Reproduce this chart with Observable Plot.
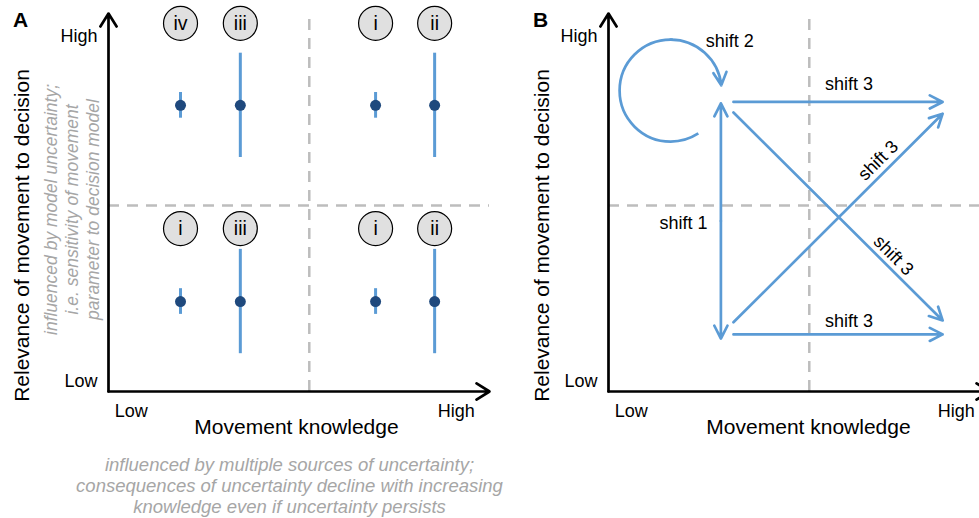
<!DOCTYPE html>
<html><head><meta charset="utf-8">
<script src="https://cdn.jsdelivr.net/npm/d3@7"></script>
<script src="https://cdn.jsdelivr.net/npm/@observablehq/plot@0.6"></script>
<style>
body{margin:0;background:#fff;}
#wrap{position:relative;width:979px;height:518px;overflow:hidden;background:#fff;}
#wrap > svg, #wrap > figure{position:absolute;top:0;margin:0;}
</style></head><body><div id="wrap"></div>
<script>
// ---------- data (conceptual units: 0 = origin of the axes, 1 = arrow tip) ----------
const axisTickLabels = ["Low", "High"];
const xTickValues = [0.06, 0.913];
const yTickValues = [0.026, 0.94];
const xTitle = "Movement knowledge";
const yTitle = "Relevance of movement to decision";
const quadrantKnowledge = 0.527;
const quadrantRelevance = 0.492;
const axesArrows = [{k1: 0, r1: 0, k2: 0, r2: 1}, {k1: 0, r1: 0, k2: 1, r2: 0}];

// Panel A
const aKnowledge = [0.189, 0.346, 0.701, 0.856];
const aRelevance = [0.757, 0.238];
const aUncertaintyHalf = [0.034, 0.138, 0.034, 0.138];
const aBadgeRelevance = [0.974, 0.431];
const aBadgesTop = ["iv", "iii", "i", "ii"];
const aBadgesBottom = ["i", "iii", "i", "ii"];
const aSideNote = ["influenced by model uncertainty;", "i.e. sensitivity of movement", "parameter to decision model"];
const aCaption = ["influenced by multiple sources of uncertainty;", "consequences of uncertainty decline with increasing", "knowledge even if uncertainty persists"];

// Panel B
const bShift1 = {k: 0.295, rTop: 0.762, rBottom: 0.140};
const bShift3 = [
  {k1: 0.328, r1: 0.766, k2: 0.877, r2: 0.766},
  {k1: 0.328, r1: 0.151, k2: 0.877, r2: 0.151},
  {k1: 0.328, r1: 0.738, k2: 0.877, r2: 0.188},
  {k1: 0.328, r1: 0.183, k2: 0.877, r2: 0.735}
];
const bLoop = {k: 0.163, r: 0.796, startDeg: 57, endDeg: 272};
const bLoopArrow = {k1: 0.163, r1: 0.931, k2: 0.296, r2: 0.810};
const bLabels = [
  {text: "shift 2", k: 0.318, r: 0.926},
  {text: "shift 1", k: 0.197, r: 0.444},
  {text: "shift 3", k: 0.631, r: 0.812},
  {text: "shift 3", k: 0.631, r: 0.187}
];
const bDiagLabels = [
  {text: "shift 3", k: 0.708, r: 0.611, angle: -45},
  {text: "shift 3", k: 0.748, r: 0.360, angle: 45}
];

// ---------- styles ----------
const BLUE = "#5b9bd5", NAVY = "#1f497d", GRID = "#bdbdbd", NOTE = "#a6a6a6";
const FONT = "'Liberation Sans', Arial, sans-serif";
const CENTERED = {textAnchor: "middle", lineAnchor: "middle"};

// tables built from arrays
const aPoints = [];
aRelevance.forEach((r, ri) => aKnowledge.forEach((k, ci) => aPoints.push({k, r, lo: r - aUncertaintyHalf[ci], hi: r + aUncertaintyHalf[ci]})));
const aBadges = [];
[aBadgesTop, aBadgesBottom].forEach((row, ri) => row.forEach((label, ci) => aBadges.push({k: aKnowledge[ci], r: aBadgeRelevance[ri], label})));
const shift1Mid = (bShift1.rTop + bShift1.rBottom) / 2;
const bShift1Arrows = [{k: bShift1.k, from: shift1Mid, to: bShift1.rTop}, {k: bShift1.k, from: shift1Mid, to: bShift1.rBottom}];

function commonMarks(panelLetter, letterDx, yTitleDx, xTitleDx) {
  return [
    Plot.ruleX([quadrantKnowledge], {y1: 0, y2: 1, stroke: GRID, strokeWidth: 2.5, strokeDasharray: "11,8"}),
    Plot.ruleY([quadrantRelevance], {x1: 0, x2: 1, stroke: GRID, strokeWidth: 2.5, strokeDasharray: "11,8"}),
    Plot.arrow(axesArrows, {x1: "k1", y1: "r1", x2: "k2", y2: "r2", stroke: "#000", strokeWidth: 2.7, headLength: 8.5, headAngle: 64}),
    Plot.axisX({ticks: xTickValues, tickFormat: d => axisTickLabels[xTickValues.indexOf(d)], tickSize: 0, tickPadding: 13, fontSize: 18, label: null}),
    Plot.axisY({ticks: yTickValues, tickFormat: d => axisTickLabels[yTickValues.indexOf(d)], tickSize: 0, tickPadding: 11, fontSize: 18, label: null}),
    Plot.text([xTitle], {frameAnchor: "bottom", ...CENTERED, dx: xTitleDx, dy: 36, fontSize: 21, fill: "#000"}),
    Plot.text([yTitle], {frameAnchor: "left", ...CENTERED, rotate: -90, dx: yTitleDx, dy: 33, fontSize: 21, fill: "#000"}),
    Plot.text([panelLetter], {frameAnchor: "top-left", ...CENTERED, dx: letterDx, dy: 7, fontSize: 21, fontWeight: "bold", fill: "#000"})
  ];
}

function panel(marks) {
  return Plot.plot({
    width: 500, height: 518,
    marginLeft: 108, marginRight: 11, marginTop: 13, marginBottom: 127,
    x: {domain: [0, 1]},
    y: {domain: [0, 1]},
    style: {fontFamily: FONT, fontSize: "18px", color: "#000", background: "transparent", overflow: "visible", maxWidth: "none"},
    marks
  });
}

// Panel A
const plotA = panel([
  ...commonMarks("A", -88, -86, -2.5),
  Plot.ruleX(aPoints, {x: "k", y1: "lo", y2: "hi", stroke: BLUE, strokeWidth: 3}),
  Plot.dot(aPoints, {x: "k", y: "r", r: 5.5, fill: NAVY, stroke: "none"}),
  Plot.dot(aBadges, {x: "k", y: "r", r: 17, fill: "#e0e0e0", stroke: "#000", strokeWidth: 1.2}),
  Plot.text(aBadges, {x: "k", y: "r", text: "label", fontSize: 19.5, fill: "#000"}),
  Plot.text([aSideNote.join("\n")], {frameAnchor: "left", ...CENTERED, rotate: -90, dx: -37, dy: 7, fontSize: 17.5, fontStyle: "italic", fill: NOTE, lineHeight: 1.21}),
  Plot.text([aCaption.join("\n")], {frameAnchor: "bottom", ...CENTERED, dx: -9.5, dy: 93.5, fontSize: 18.5, fontStyle: "italic", fill: NOTE, lineHeight: 1.14})
]);

// Panel B
const loopR = 51;
const loopC = 2 * Math.PI * loopR;
const loopStart = loopC * bLoop.startDeg / 360;
const loopDash = loopC * (bLoop.endDeg - bLoop.startDeg) / 360;
const plotB = panel([
  ...commonMarks("B", -68, -66.5, 9.5),
  Plot.arrow(bShift3, {x1: "k1", y1: "r1", x2: "k2", y2: "r2", stroke: BLUE, strokeWidth: 2.7, headLength: 8, headAngle: 54}),
  Plot.arrow(bShift1Arrows, {x1: "k", y1: "from", x2: "k", y2: "to", stroke: BLUE, strokeWidth: 2.7, headLength: 8, headAngle: 54}),
  Plot.dot([bLoop], {x: "k", y: "r", r: loopR, fill: "none", stroke: BLUE, strokeWidth: 2.7, strokeDasharray: `${loopDash} ${loopC - loopDash}`, strokeDashoffset: loopC - loopStart}),
  Plot.arrow([bLoopArrow], {x1: "k1", y1: "r1", x2: "k2", y2: "r2", bend: 42, stroke: BLUE, strokeWidth: 2.7, headLength: 8, headAngle: 54}),
  Plot.text(bLabels, {x: "k", y: "r", text: "text", fontSize: 18, fill: "#000"}),
  Plot.text(bDiagLabels, {x: "k", y: "r", text: "text", rotate: "angle", fontSize: 18, fill: "#000"})
]);

const wrap = document.getElementById("wrap");
plotA.style.left = "0px";
plotB.style.left = "500px";
wrap.appendChild(plotA);
wrap.appendChild(plotB);
</script></body></html>
